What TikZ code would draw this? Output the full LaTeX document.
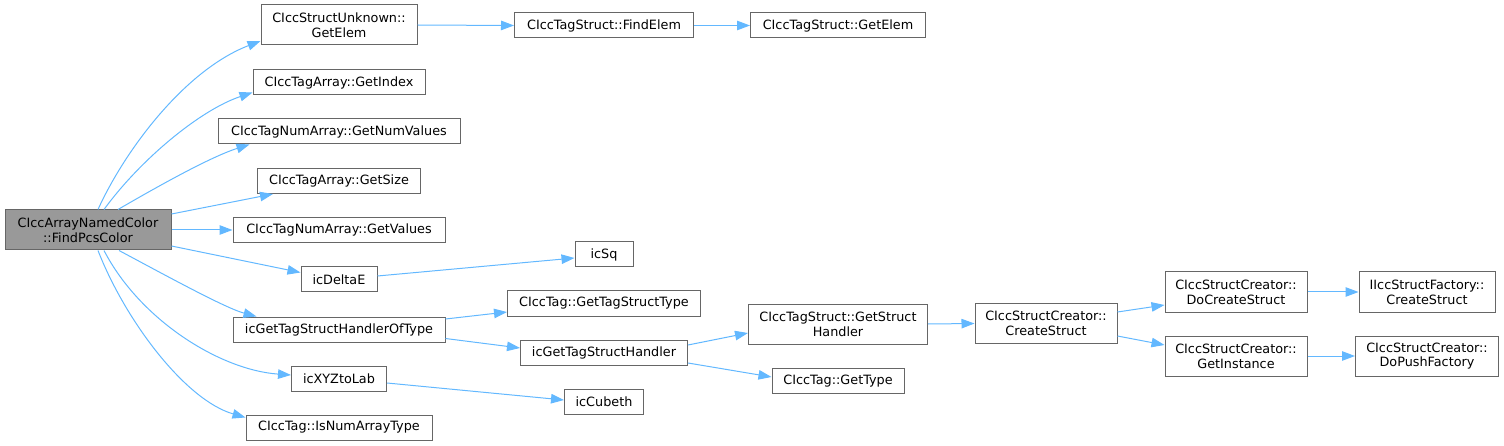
\documentclass[tikz,border=0pt]{standalone}
\usepackage{fontspec}
\setmainfont{DejaVu Sans}
\usetikzlibrary{arrows.meta}
\definecolor{edgeblue}{RGB}{99,184,255}
\definecolor{boxline}{RGB}{102,102,102}
\definecolor{mainfill}{RGB}{153,153,153}
\tikzset{
  fn/.style={draw=boxline, line width=1pt, fill=white, inner sep=0pt, align=center,
    font=\fontsize{12.8}{14.8}\selectfont},
  fnmain/.style={fn, fill=mainfill},
  call/.style={draw=edgeblue, line width=1pt, -{Triangle[length=13pt,width=9.5pt]}},
}
\begin{document}
\begin{tikzpicture}[x=1pt,y=-1pt]
\useasboundingbox (0,0) rectangle (1504,446);
% nodes
\node[fnmain, minimum width=166pt, minimum height=40pt] (main) at (88,230) {CIccArrayNamedColor\\::FindPcsColor};
\node[fn, minimum width=156pt, minimum height=40pt] (ue) at (339,25) {CIccStructUnknown::\\GetElem};
\node[fn, minimum width=172pt, minimum height=25pt] (gi) at (339,82.5) {CIccTagArray::GetIndex};
\node[fn, minimum width=242pt, minimum height=25pt] (gnv) at (339,131.5) {CIccTagNumArray::GetNumValues};
\node[fn, minimum width=163pt, minimum height=25pt] (gs) at (339,181) {CIccTagArray::GetSize};
\node[fn, minimum width=212pt, minimum height=25pt] (gv) at (339,230) {CIccTagNumArray::GetValues};
\node[fn, minimum width=76pt, minimum height=25pt] (de) at (339,279.5) {icDeltaE};
\node[fn, minimum width=212pt, minimum height=25pt] (ht) at (339,329.5) {icGetTagStructHandlerOfType};
\node[fn, minimum width=95pt, minimum height=25pt] (xl) at (339,378.5) {icXYZtoLab};
\node[fn, minimum width=186pt, minimum height=25pt] (na) at (339,427.5) {CIccTag::IsNumArrayType};
\node[fn, minimum width=179pt, minimum height=25pt] (fe) at (604,25.5) {CIccTagStruct::FindElem};
\node[fn, minimum width=58pt, minimum height=25pt] (sq) at (604,254.5) {icSq};
\node[fn, minimum width=193pt, minimum height=25pt] (gts) at (604,303.5) {CIccTag::GetTagStructType};
\node[fn, minimum width=167pt, minimum height=25pt] (gh) at (604,353) {icGetTagStructHandler};
\node[fn, minimum width=79pt, minimum height=25pt] (cb) at (604,402) {icCubeth};
\node[fn, minimum width=175pt, minimum height=25pt] (ge) at (838,25.5) {CIccTagStruct::GetElem};
\node[fn, minimum width=179pt, minimum height=40pt] (gsh) at (838,324) {CIccTagStruct::GetStruct\\Handler};
\node[fn, minimum width=132pt, minimum height=25pt] (gt) at (838,381) {CIccTag::GetType};
\node[fn, minimum width=142pt, minimum height=40pt] (cs) at (1046,323.5) {CIccStructCreator::\\CreateStruct};
\node[fn, minimum width=142pt, minimum height=40pt] (dcs) at (1236,292) {CIccStructCreator::\\DoCreateStruct};
\node[fn, minimum width=142pt, minimum height=40pt] (gin) at (1236,356) {CIccStructCreator::\\GetInstance};
\node[fn, minimum width=136pt, minimum height=40pt] (isf) at (1427,292) {IIccStructFactory::\\CreateStruct};
\node[fn, minimum width=143pt, minimum height=40pt] (dpf) at (1427,356) {CIccStructCreator::\\DoPushFactory};
% edges from main
\draw[call] ([xshift=10pt]main.north) .. controls (125,150) and (185,70) .. ([yshift=-16pt]ue.west);
\draw[call] ([xshift=16pt]main.north) .. controls (140,160) and (200,110) .. ([yshift=-10pt]gi.west);
\draw[call] ([xshift=30pt]main.north) .. controls (155,188) and (210,157) .. ([xshift=32pt]gnv.south west);
\draw[call] ([yshift=16pt]main.east) -- ([xshift=16pt]gs.south west);
\draw[call] (main.east) -- (gv.west);
\draw[call] ([yshift=-16pt]main.east) -- ([yshift=7pt]de.west);
\draw[call] ([xshift=31pt]main.south) .. controls (165,275) and (225,308) .. ([xshift=24pt]ht.north west);
\draw[call] ([xshift=16pt]main.south) .. controls (140,320) and (220,370) .. ([yshift=3.5pt]xl.west);
\draw[call] ([xshift=10pt]main.south) .. controls (125,320) and (185,400) .. ([yshift=10pt]na.west);
% other edges
\draw[call] (ue.east) -- (fe.west);
\draw[call] (fe.east) -- (ge.west);
\draw[call] ([yshift=3.5pt]de.east) -- ([yshift=-3.5pt]sq.west);
\draw[call] ([yshift=10.5pt]ht.east) -- ([yshift=-8.5pt]gts.west);
\draw[call] ([yshift=-9pt]ht.east) -- ([yshift=5pt]gh.west);
\draw[call] ([yshift=8pt]gh.east) -- ([yshift=-9pt]gsh.west);
\draw[call] ([yshift=-10pt]gh.east) -- ([yshift=4pt]gt.west);
\draw[call] ([yshift=-4.5pt]xl.east) -- ([yshift=2pt]cb.west);
\draw[call] (gsh.east) -- (cs.west);
\draw[call] ([yshift=11.5pt]cs.east) -- ([yshift=-13pt]dcs.west);
\draw[call] ([yshift=-12.5pt]cs.east) -- ([yshift=11pt]gin.west);
\draw[call] (dcs.east) -- (isf.west);
\draw[call] (gin.east) -- (dpf.west);
\end{tikzpicture}
\end{document}
